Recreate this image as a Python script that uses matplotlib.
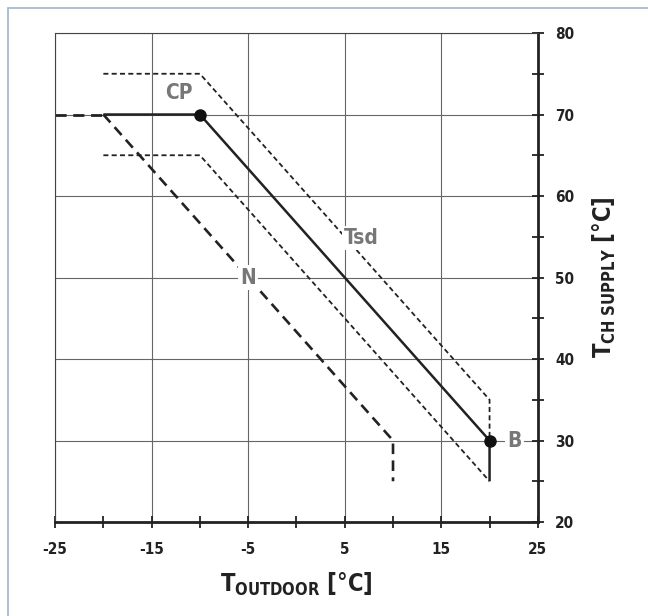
import matplotlib
matplotlib.use("Agg")
import matplotlib.pyplot as plt
from matplotlib.patches import Rectangle

plt.rcParams['font.family'] = ['DejaVu Sans']
plt.rcParams['font.stretch'] = 'condensed'
plt.rcParams['mathtext.default'] = 'bf'
plt.rcParams['axes.unicode_minus'] = False

# heating curve (solid) with CP and B points
curve_x = [-20, -10, 20, 20]
curve_y = [70, 70, 30, 25]
ext_x = [-25, -20]          # dashed extension left of curve
ext_y = [70, 70]
# N curve (long dashes)
n_x = [-20, 10, 10]
n_y = [70, 30, 25]
# Tsd band (short dashes)
up_x = [-20, -10, 20, 20]
up_y = [75, 75, 35, 30]
lo_x = [-20, -10, 20]
lo_y = [65, 65, 25]
points_x = [-10, 20]
points_y = [70, 30]
labels = [("CP", -12.2, 72.6), ("Tsd", 6.7, 54.8), ("N", -5, 50), ("B", 22.6, 30)]

xticks = [-25, -15, -5, 5, 15, 25]
yticks = [20, 30, 40, 50, 60, 70, 80]

fig = plt.figure(figsize=(6.48, 6.16), dpi=100)
ax = fig.add_axes([0.085, 0.1526, 0.745, 0.7938])
fig.patches.append(Rectangle((8 / 648, -0.05), 1.1, 1.05 - 8 / 616,
                             transform=fig.transFigure, fill=False,
                             edgecolor="#9fb3cc", lw=1.2))

ax.set_xlim(-25, 25)
ax.set_ylim(20, 80)
ax.set_xticks(xticks)
ax.set_xticks([-20, -10, 0, 10, 20], minor=True)
ax.set_yticks(yticks)
ax.set_yticks([25, 35, 45, 55, 65, 75], minor=True)
ax.grid(True, which="major", color="#666666", lw=0.8)
ax.yaxis.tick_right()
ax.tick_params(axis="both", which="both", direction="inout", width=1.3, color="#222222")
ax.tick_params(axis="x", which="major", length=9, labelsize=11, pad=10)
ax.tick_params(axis="y", which="major", length=9, labelsize=11, pad=8)
ax.tick_params(axis="both", which="minor", length=8)
for lab in ax.get_xticklabels() + ax.get_yticklabels():
    lab.set_fontweight("bold")
    lab.set_color("#222222")
for s in ["left", "top"]:
    ax.spines[s].set_linewidth(0.8)
    ax.spines[s].set_color("#444444")
for s in ["right", "bottom"]:
    ax.spines[s].set_linewidth(2.0)
    ax.spines[s].set_color("#222222")

ax.plot(up_x, up_y, color="#222222", lw=1.3, dashes=(2.8, 1.8))
ax.plot(lo_x, lo_y, color="#222222", lw=1.3, dashes=(2.8, 1.8))
ax.plot(n_x, n_y, color="#222222", lw=1.9, dashes=(4, 2.4))
ax.plot(ext_x, ext_y, color="#222222", lw=2.0, dashes=(4, 2.4))
ax.plot(curve_x, curve_y, color="#222222", lw=1.8, solid_capstyle="butt")
ax.plot(points_x, points_y, "o", color="#111111", ms=8, zorder=5)

for txt, x, y in labels:
    ax.text(x, y, txt, ha="center", va="center", fontsize=15, fontweight="bold",
            color="#777777", zorder=6,
            bbox=dict(facecolor="white", edgecolor="none", pad=1.5))

ax.set_xlabel(r"T$_{OUTDOOR}$ [°C]", fontsize=17, fontweight="bold", color="#222222", labelpad=10)
ax.yaxis.set_label_position("right")
ax.set_ylabel(r"T$_{CH\ SUPPLY}$ [°C]", fontsize=17, fontweight="bold", color="#222222", labelpad=12)

fig.savefig("out.png", dpi=100)
